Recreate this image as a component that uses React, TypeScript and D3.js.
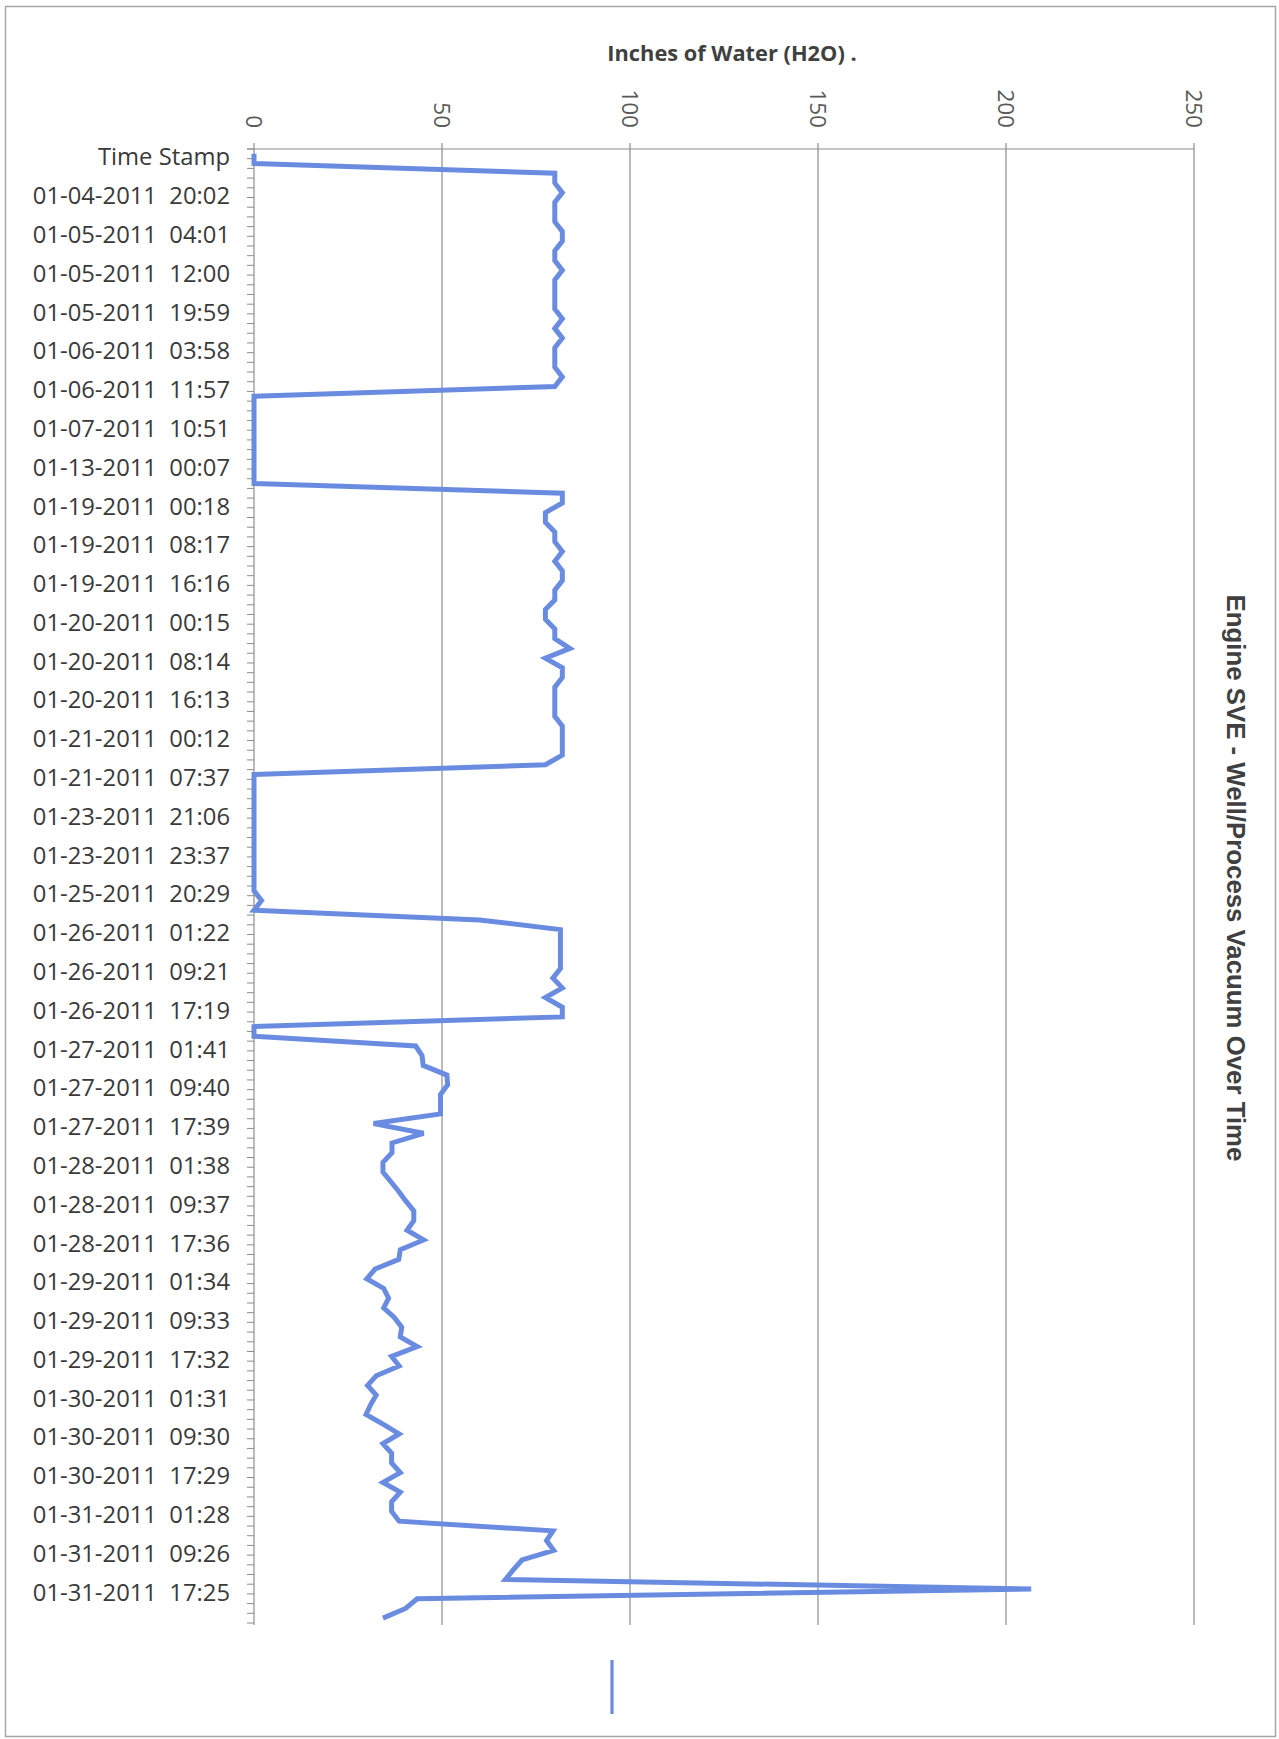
import React from "react";
import * as d3 from "d3";

// Category tick labels (one every 4 categories; first is the header row "Time Stamp")
const tickLabels: string[] = [
  "Time Stamp",
  "01-04-2011  20:02", "01-05-2011  04:01", "01-05-2011  12:00", "01-05-2011  19:59",
  "01-06-2011  03:58", "01-06-2011  11:57", "01-07-2011  10:51", "01-13-2011  00:07",
  "01-19-2011  00:18", "01-19-2011  08:17", "01-19-2011  16:16", "01-20-2011  00:15",
  "01-20-2011  08:14", "01-20-2011  16:13", "01-21-2011  00:12", "01-21-2011  07:37",
  "01-23-2011  21:06", "01-23-2011  23:37", "01-25-2011  20:29", "01-26-2011  01:22",
  "01-26-2011  09:21", "01-26-2011  17:19", "01-27-2011  01:41", "01-27-2011  09:40",
  "01-27-2011  17:39", "01-28-2011  01:38", "01-28-2011  09:37", "01-28-2011  17:36",
  "01-29-2011  01:34", "01-29-2011  09:33", "01-29-2011  17:32", "01-30-2011  01:31",
  "01-30-2011  09:30", "01-30-2011  17:29", "01-31-2011  01:28", "01-31-2011  09:26",
  "01-31-2011  17:25",
];
const labelEvery = 4;

// Inches of water, one reading per category (152 categories)
const vacuum: number[] = [
  0, 0, 80, 80, 82, 80, 80, 80, 82, 82,
  80, 80, 82, 80, 80, 80, 80, 82, 80, 82,
  80, 80, 80, 82, 80, 0, 0, 0, 0, 0,
  0, 0, 0, 0, 0, 82, 82, 77.5, 77.5, 80,
  80, 82, 80, 82, 82, 80, 80, 77.5, 77.5, 80,
  80, 84, 77.5, 82, 82, 80, 80, 80, 80, 82,
  82, 82, 82, 77.5, 0, 0, 0, 0, 0, 0,
  0, 0, 0, 0, 0, 0, 0, 2, 0, 60,
  81.5, 81.5, 81.5, 81.5, 81.5, 79.5, 82, 77.5, 82, 82,
  0, 0, 43, 44.7, 45, 51.3, 51.5, 49.6, 49.6, 49.6,
  31.8, 45.1, 36.7, 36.7, 34.3, 34.3, 36.4, 38.5, 40.4, 42.5,
  42.5, 40.7, 45.1, 38.9, 38.5, 32.2, 30, 34.5, 35.8, 34.5,
  37.3, 39.3, 38.9, 43.4, 36.6, 38.6, 32.5, 30.2, 32.5, 31,
  29.8, 34.3, 38.6, 34.3, 36.6, 36.6, 38.9, 34.3, 38.9, 36.6,
  36.6, 38.6, 79.5, 77.8, 79.7, 71.3, 69, 66.9, 206.7, 43.4,
  40.3, 34.3,
];

const valueTicks: number[] = [0, 50, 100, 150, 200, 250];
const xTitle = "Inches of Water (H2O) .";
const chartTitle = "Engine SVE - Well/Process Vacuum Over Time";

export default function App() {
  const W = 1279;
  const H = 1739;
  const left = 254;
  const right = 1194;
  const top = 149;
  const bottom = 1623;

  const x = d3.scaleLinear().domain([0, 250]).range([left, right]);
  const y = d3
    .scaleBand<number>()
    .domain(d3.range(vacuum.length))
    .range([top, bottom])
    .padding(0);
  const bw = y.bandwidth();

  const line = d3
    .line<number>()
    .x((d) => x(d))
    .y((_, i) => (y(i) as number) + bw / 2);

  const lineColor = "#6a8ce0";
  const gridColor = "#8c8c8c";

  return (
    <>
      <style>{`html,body{margin:0;padding:0;background:#fff}`}</style>
      <svg width={W} height={H} style={{ display: "block", background: "#fff" }}>
        <rect x={5.5} y={6.5} width={1270} height={1730} fill="none" stroke="#a6a6a6" strokeWidth={1.5} />

        {/* x title */}
        <text
          x={732}
          y={61}
          textAnchor="middle"
          fontFamily="'Open Sans', sans-serif"
          fontWeight="bold"
          fontSize={21.8}
          fill="#404040"
        >
          {xTitle}
        </text>

        {/* vertical gridlines + top ticks */}
        {valueTicks.map((t) => (
          <g key={t}>
            <line x1={x(t)} x2={x(t)} y1={top - 6} y2={bottom + 2} stroke={gridColor} strokeWidth={1.2} />
            <text
              transform={`translate(${x(t)},128) rotate(90)`}
              textAnchor="end"
              dominantBaseline="central"
              fontFamily="'Open Sans', sans-serif"
              fontSize={22.5}
              fill="#595959"
            >
              {t}
            </text>
          </g>
        ))}
        <line x1={left - 7} x2={right} y1={top} y2={top} stroke={gridColor} strokeWidth={1.2} />

        {/* category axis ticks */}
        {d3.range(vacuum.length + 1).map((i) => {
          const yy = i < vacuum.length ? (y(i) as number) : bottom;
          return <line key={i} x1={left - 7} x2={left} y1={yy} y2={yy} stroke={gridColor} strokeWidth={1} />;
        })}

        {/* category labels */}
        {tickLabels.map((lab, k) => {
          const i = k * labelEvery;
          return (
            <text
              key={k}
              x={230}
              y={(y(i) as number) + bw / 2 + 3}
              dy="0.36em"
              textAnchor="end"
              fontFamily="'Open Sans', sans-serif"
              fontSize={23.8}
              fill="#3a3a3a"
              style={{ whiteSpace: "pre" }}
            >
              {lab}
            </text>
          );
        })}

        {/* series */}
        <path d={line(vacuum) || ""} fill="none" stroke={lineColor} strokeWidth={5} strokeLinejoin="miter" strokeMiterlimit={3} />

        {/* legend sample */}
        <line x1={612} x2={612} y1={1660} y2={1714} stroke={lineColor} strokeWidth={3.2} />

        {/* chart title (rotated) */}
        <text
          transform="translate(1236,878) rotate(90)"
          textAnchor="middle"
          dominantBaseline="central"
          fontFamily="'Liberation Sans', Arial, sans-serif"
          fontWeight="bold"
          fontSize={25.8}
          fill="#404040"
        >
          {chartTitle}
        </text>
      </svg>
    </>
  );
}
